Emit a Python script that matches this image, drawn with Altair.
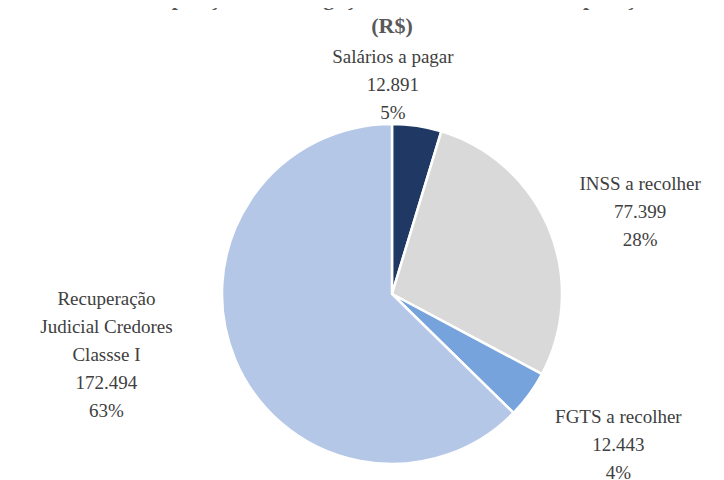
import altair as alt
import pandas as pd

# ---- data ----
categories = ["Salários a pagar", "INSS a recolher", "FGTS a recolher",
              "Recuperação\nJudicial  Credores\nClassse I"]
values = [12891, 77399, 12443, 172494]
percents = [5, 28, 4, 63]
colors = ["#1F3864", "#D9D9D9", "#76A3DC", "#B4C7E7"]

title_lines = ["Composição das obrigações trabalhistas na Recuperação", "(R$)"]

# ---- label layout (styles, not data) ----
label_radius = [211, 261, 272, 300]
label_dx = [-30, 7, 7, -9]
label_dy = [-28, -10, -38, -111]

df = pd.DataFrame({
    "cat": categories,
    "value": values,
    "pct": percents,
    "idx": list(range(len(categories))),
})

FONT = "Liberation Serif"
W, H = 648, 348
PAD = {"left": 60, "top": 112, "right": 0, "bottom": 12}

base = alt.Chart(df)

pie = base.mark_arc(outerRadius=170, stroke="white", strokeWidth=2.5).encode(
    theta=alt.Theta("value:Q", stack=True),
    color=alt.Color("cat:N", scale=alt.Scale(domain=categories, range=colors), legend=None),
    order=alt.Order("idx:Q"),
)

layers = [pie]
for i in range(len(categories)):
    t = (
        base.transform_window(cum="sum(value)", sort=[alt.SortField("idx")])
        .transform_calculate(
            mid="datum.cum - datum.value / 2",
            label="datum.cat + '\\n' + replace(format(datum.value, ','), ',', '.') + '\\n' + datum.pct + '%'",
        )
        .transform_filter(f"datum.idx == {i}")
        .mark_text(
            radius=label_radius[i], dx=label_dx[i], dy=label_dy[i],
            font=FONT, fontSize=19, lineHeight=28, lineBreak="\n",
            align="center", baseline="middle", color="#404040",
        )
        .encode(theta=alt.Theta("mid:Q", stack=None), text="label:N")
    )
    layers.append(t)

title_y = [-115, -87]
for line, yv in zip(title_lines, title_y):
    layers.append(
        alt.Chart(pd.DataFrame({"t": [line]})).mark_text(
            font=FONT, fontSize=22, fontWeight="bold", align="center",
            baseline="alphabetic", color="#595959",
        ).encode(text="t:N", x=alt.value(W / 2), y=alt.value(yv))
    )

chart = alt.layer(*layers).properties(
    width=W, height=H, padding=PAD, autosize=alt.AutoSizeParams(type="none"),
).configure_view(stroke=None)

chart.save("out.html", embed_options={"renderer": "svg", "actions": False})
